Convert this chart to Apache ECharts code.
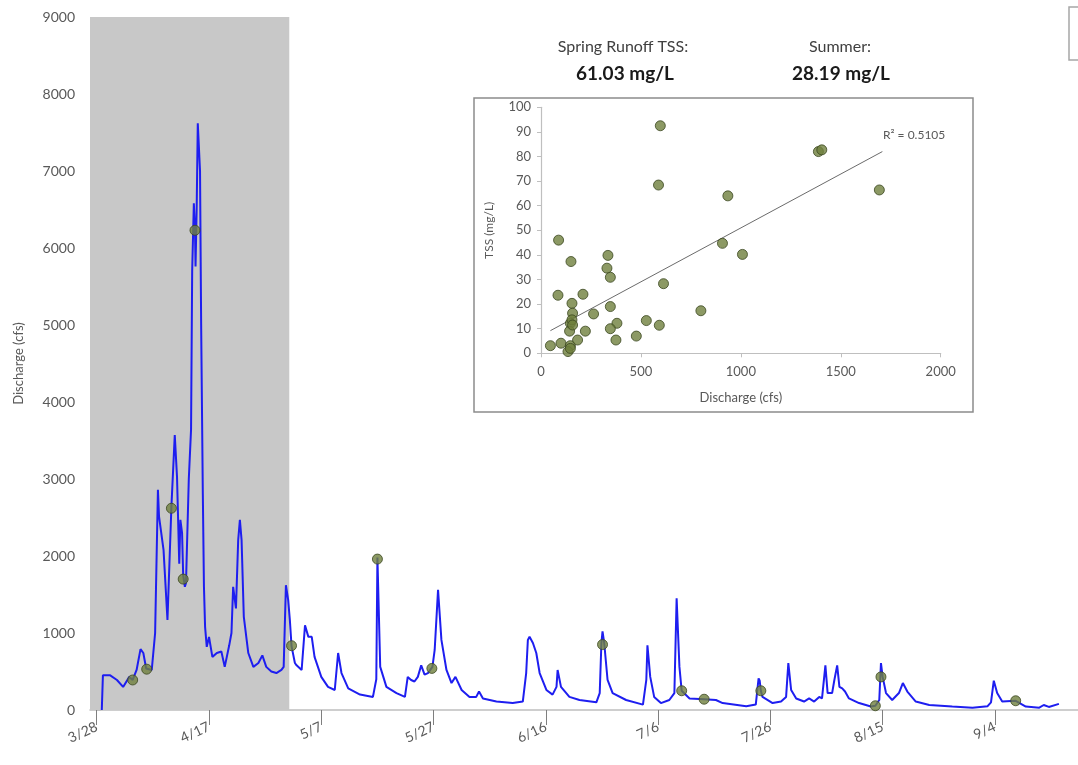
<!DOCTYPE html>
<html>
<head>
<meta charset="utf-8">
<script src="https://cdn.jsdelivr.net/npm/echarts@6/dist/echarts.min.js"></script>
<style>html,body{margin:0;padding:0;background:#fff}#c{width:1078px;height:765px}</style>
</head>
<body>
<div id="c"></div>
<script>
// ---- Main chart: days after 3/28 and discharge (cfs) ----
const dayIdx = [0.9,1.1,2.4,3.6,4.7,5.8,6.4,7.1,7.8,8.3,8.8,9.8,10.4,10.9,11.1,11.9,12.6,13.3,13.9,14.3,14.7,14.9,15.2,15.4,15.7,15.9,16.4,16.8,17.0,17.3,17.5,17.6,17.8,18.0,18.2,18.4,18.6,18.9,19.1,19.3,19.6,20.0,20.6,21.4,22.2,22.8,23.6,24.0,24.3,24.8,25.2,25.5,25.8,26.2,27.0,27.9,28.8,29.5,30.2,31.1,32.0,32.9,33.3,33.7,34.1,34.4,34.7,35.3,35.6,36.5,37.1,37.7,38.3,38.8,40.0,41.2,42.4,43.0,43.6,44.8,46.9,49.2,49.8,50.0,50.5,51.6,53.4,54.9,55.4,56.0,56.6,57.2,57.8,58.4,59.0,59.8,60.2,60.8,61.4,62.3,63.2,63.9,65.0,66.4,67.6,68.1,68.8,71.2,74.1,75.9,76.5,76.8,77.1,77.7,78.3,78.9,80.1,81.2,81.9,82.1,82.7,84.2,86.0,89.0,89.6,89.9,90.1,90.4,91.0,91.9,94.3,97.3,97.9,98.1,98.6,99.3,100.5,102.0,102.9,103.3,103.8,104.2,105.6,108.2,110.3,111.5,115.7,117.4,117.9,118.1,118.3,118.6,118.9,120.4,121.9,122.8,123.2,123.7,124.6,126.0,126.9,127.8,128.7,129.2,129.8,130.2,131.0,131.4,131.9,132.3,132.8,133.3,134.0,135.8,137.9,138.7,139.4,139.7,140.0,140.6,141.7,142.9,143.6,144.4,145.9,148.3,152.4,156.0,158.7,159.3,159.8,160.4,161.3,163.7,165.5,167.9,168.7,169.6,171.4];
const discharge = [0,450,450,390,300,430,390,520,790,740,540,520,1000,2860,2510,2080,1170,2640,3570,3030,1900,2470,2300,1750,1600,1650,3000,3640,5700,6580,6230,5760,6500,7620,7600,7000,5000,2800,1600,1080,820,950,690,740,760,560,840,1000,1600,1320,2210,2470,2210,1210,740,560,610,710,560,500,480,520,560,1620,1430,1170,830,610,580,520,1100,950,950,690,430,300,260,740,480,280,200,170,400,1980,560,300,220,170,430,390,370,430,580,460,480,560,780,1560,910,520,350,430,260,170,170,240,150,110,90,110,480,910,950,870,740,480,260,200,300,520,300,170,130,100,220,870,1020,870,390,220,130,70,390,840,430,170,90,130,220,1450,560,250,150,140,130,90,50,70,410,380,250,170,150,90,110,170,610,260,150,110,150,110,170,150,580,220,220,390,580,300,280,240,150,90,45,55,130,610,430,220,130,220,350,240,110,65,45,30,50,100,380,220,110,120,45,30,65,40,80];

// TSS sample dates on the discharge record
const sampleDays = [6.4,8.9,13.3,15.4,17.5,34.7,50.0,59.7,90.1,104.2,108.2,118.3,138.7,139.7,163.7];
const sampleQ    = [390,530,2620,1700,6230,835,1960,540,850,250,140,250,55,430,120];

// Spring runoff period (shaded), in days after 3/28
const springStart = -1.2;
const springEnd = 34.3;

// X-axis ticks
const tickDays   = [0,20,40,60,80,100,120,140,160];
const tickLabels = ['3/28','4/17','5/7','5/27','6/16','7/6','7/26','8/15','9/4'];

// ---- Inset: discharge vs TSS ----
const tssQ = [597,588,1388,1405,1693,935,908,1008,88,150,335,330,347,613,85,210,155,347,263,158,800,147,155,527,592,380,347,222,143,47,100,147,183,375,477,135,147,158];
const tssC = [92.5,68.4,82,82.7,66.4,64,44.7,40.2,46,37.3,39.8,34.6,30.9,28.3,23.6,24,20.3,19,16,16.3,17.3,12.2,13.6,13.3,11.4,12.2,10,9,9,3.1,4.1,3.1,5.4,5.4,7,0.7,2,11.5];
const trendQ = [47,1708];
const trendC = [9.2,82];
const r2Text = 'R² = 0.5105';

const springLabel = 'Spring Runoff TSS:';
const springValue = '61.03 mg/L';
const summerLabel = 'Summer:';
const summerValue = '28.19 mg/L';

const FONT = 'Lato';
const chart = echarts.init(document.getElementById('c'), null, {renderer:'canvas'});

const lineData = dayIdx.map((d,i)=>[d, discharge[i]]);
const sampleData = sampleDays.map((d,i)=>[d, sampleQ[i]]);
const scatterData = tssQ.map((q,i)=>[q, tssC[i]]);
const trendData = trendQ.map((q,i)=>[q, trendC[i]]);

const markerStyle = {color:'#6f803d', borderColor:'#3b4720', borderWidth:1};

chart.setOption({
  animation:false,
  backgroundColor:'#ffffff',
  textStyle:{fontFamily:FONT},
  grid:[
    {left:90, top:17, right:0, bottom:55},
    {left:541, top:107.3, right:137.3, bottom:411.7}
  ],
  xAxis:[
    {
      type:'value', gridIndex:0, min:springStart, max:174.8,
      axisLine:{show:true, lineStyle:{color:'#bfbfbf', width:1.5}},
      axisTick:{show:true, customValues:tickDays, length:15, lineStyle:{color:'#7f7f7f'}},
      axisLabel:{show:true, customValues:tickDays, rotate:25, margin:16, fontSize:14, color:'#595959', fontFamily:FONT,
        formatter:v=>{const i=tickDays.indexOf(Math.round(v)); return i>=0?tickLabels[i]:'';}},
      splitLine:{show:false}
    },
    {
      type:'value', gridIndex:1, min:0, max:2000, interval:500,
      axisLine:{show:true, lineStyle:{color:'#bfbfbf', width:1.2}},
      axisTick:{show:true, length:4, lineStyle:{color:'#bfbfbf'}},
      axisLabel:{fontSize:13, color:'#595959', margin:12, fontFamily:FONT, formatter:v=>String(v)},
      splitLine:{show:false},
      name:'Discharge (cfs)', nameLocation:'middle', nameGap:38,
      nameTextStyle:{fontSize:13, color:'#595959', fontFamily:FONT}
    }
  ],
  yAxis:[
    {
      type:'value', gridIndex:0, min:0, max:9000, interval:1000,
      axisLine:{show:false},
      axisTick:{show:true, inside:true, length:4, lineStyle:{color:'#bfbfbf'}},
      axisLabel:{fontSize:14, color:'#595959', margin:15, fontFamily:FONT, formatter:v=>String(v)},
      splitLine:{show:false},
      name:'Discharge (cfs)', nameLocation:'middle', nameGap:65,
      nameTextStyle:{fontSize:13, color:'#595959', fontFamily:FONT}
    },
    {
      type:'value', gridIndex:1, min:0, max:100, interval:10,
      axisLine:{show:true, lineStyle:{color:'#bfbfbf', width:1.2}},
      axisTick:{show:true, length:4, lineStyle:{color:'#bfbfbf'}},
      axisLabel:{fontSize:13, color:'#595959', margin:10, fontFamily:FONT},
      splitLine:{show:false},
      name:'TSS (mg/L)', nameLocation:'middle', nameGap:46,
      nameTextStyle:{fontSize:12, color:'#595959', fontFamily:FONT}
    }
  ],
  graphic:[
    {type:'rect', z:-10, shape:{x:474, y:98, width:499, height:314}, style:{fill:'#ffffff', stroke:'#8c8c8c', lineWidth:1.5}},
    {type:'rect', z:-10, shape:{x:1069, y:7, width:20, height:53}, style:{fill:'none', stroke:'#a6a6a6', lineWidth:1.5}},
    {type:'text', z:5, x:623, y:47, style:{text:springLabel, fill:'#404040', font:'16px '+FONT, align:'center', verticalAlign:'middle'}},
    {type:'text', z:5, x:625, y:74, style:{text:springValue, fill:'#1a1a1a', font:'bold 19px '+FONT, align:'center', verticalAlign:'middle'}},
    {type:'text', z:5, x:840, y:47, style:{text:summerLabel, fill:'#404040', font:'16px '+FONT, align:'center', verticalAlign:'middle'}},
    {type:'text', z:5, x:841, y:74, style:{text:summerValue, fill:'#1a1a1a', font:'bold 19px '+FONT, align:'center', verticalAlign:'middle'}},
    {type:'text', z:5, x:883, y:135, style:{text:r2Text, fill:'#595959', font:'12px '+FONT, align:'left', verticalAlign:'middle'}}
  ],
  series:[
    {
      type:'line', xAxisIndex:0, yAxisIndex:0, data:lineData, showSymbol:false, symbol:'none',
      lineStyle:{color:'#1e1ef0', width:2}, z:3,
      markArea:{silent:true, itemStyle:{color:'#c8c8c8'},
        data:[[{xAxis:springStart, yAxis:0},{xAxis:springEnd, yAxis:9000}]]}
    },
    {
      type:'scatter', xAxisIndex:0, yAxisIndex:0, data:sampleData, symbolSize:10,
      itemStyle:markerStyle, z:4
    },
    {
      type:'line', xAxisIndex:1, yAxisIndex:1, data:trendData, showSymbol:false, symbol:'none',
      lineStyle:{color:'#6b6b6b', width:1}, z:3
    },
    {
      type:'scatter', xAxisIndex:1, yAxisIndex:1, data:scatterData, symbolSize:10,
      itemStyle:markerStyle, z:4
    }
  ]
});
</script>
</body>
</html>
